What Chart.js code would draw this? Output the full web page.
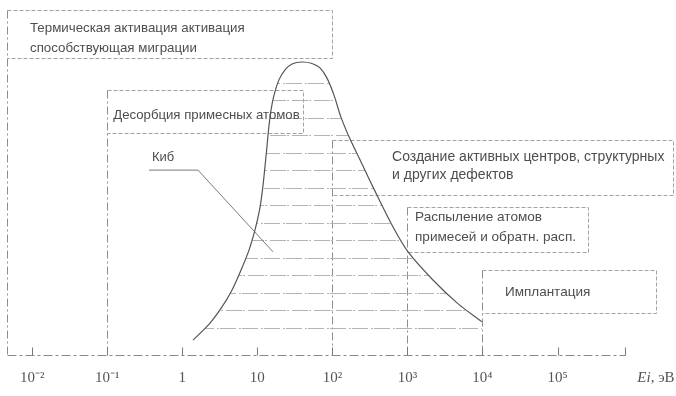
<!DOCTYPE html>
<html>
<head>
<meta charset="utf-8">
<script src="https://cdn.jsdelivr.net/npm/chart.js@4.4.1/dist/chart.umd.min.js"></script>
<style>
  html, body { margin: 0; padding: 0; background: #ffffff; }
  #wrap { width: 676px; height: 396px; }
</style>
</head>
<body>
<div id="wrap"><canvas id="chart" width="676" height="396"></canvas></div>
<script>
// Ion energy Ei (eV) and relative yield of the process curve
const curveEnergy = [1.39, 2.34, 3.38, 4.6, 6.06, 7.74, 9.31, 10.7, 11.7, 12.5, 13.3, 14.1, 15.2, 16.7, 19.4, 23.4, 29.0, 39.4,
                     53.5, 68.4, 84.8, 105, 130, 172, 241, 348, 643, 1020, 2190, 4580, 9860];
const curveValue  = [0.051, 0.109, 0.164, 0.222, 0.290, 0.358, 0.427, 0.495, 0.563, 0.631, 0.700, 0.768, 0.836, 0.887, 0.939, 0.973, 0.993, 1.0,
                     0.995, 0.980, 0.945, 0.887, 0.812, 0.737, 0.659, 0.573, 0.437, 0.352, 0.256, 0.178, 0.113];

// Decades marked on the energy axis
const tickPowers = [-2, -1, 0, 1, 2, 3, 4, 5];
const tickLabels = ['10\u207B\u00B2', '10\u207B\u00B9', '1', '10', '10\u00B2', '10\u00B3', '10\u2074', '10\u2075'];

// Processes and the energies (eV) from which each one starts
const processNames = [
  ['Термическая активация активация', 'способствующая миграции'],
  ['Десорбция примесных атомов'],
  ['Создание активных центров, структурных', 'и других дефектов'],
  ['Распыление атомов', 'примесей и обратн. расп.'],
  ['Имплантация']
];
const processFrom = [0.00461, 0.1, 100, 1000, 10000];

// Leader for the "Киб" label (energy, relative value)
const leaderEnergy = [0.36, 1.62, 16.2];
const leaderValue  = [0.631, 0.631, 0.352];

// Placement of the note boxes: right edge (eV), top/bottom (relative units), text anchor and size
const noteLayout = [
  { to: 100,    top: 1.177, bottom: 1.014, textE: 0.00934, textY: [1.116, 1.048], size: 13.3 },
  { to: 40.5,   top: 0.904, bottom: 0.758, textE: 0.12,    textY: [0.819],        size: 13.2 },
  { to: 3.46e6, top: 0.734, bottom: 0.546, textE: 624,     textY: [0.676, 0.614], size: 14 },
  { to: 2.55e5, top: 0.505, bottom: 0.352, textE: 1262,    textY: [0.471, 0.403], size: 13.6 },
  { to: 2.05e6, top: 0.290, bottom: 0.143, textE: 19950,   textY: [0.215],        size: 13.5 }
];
const kibLabel = { text: 'Киб', e: 0.395, y: 0.676 };
const axisTitle = { italic: 'Ei', rest: ', эВ', e: 2.05e6 };
const baselineEnd = 7.9e5;
const hatchTop = 0.955;
const hatchFloor = 0.04;

const X_MIN = Math.pow(10, -2.4294);
const X_MAX = Math.pow(10, 6.579);
const Y_MAX = 355 / 293;

function hatchPattern() {
  const c = document.createElement('canvas');
  c.width = 22; c.height = 35;
  const g = c.getContext('2d');
  g.fillStyle = '#b4b4b4';
  g.fillRect(0, 13, 16, 1);
  g.fillRect(19, 13, 2, 1);
  g.fillRect(6, 30, 16, 1);
  g.fillRect(1, 30, 2, 1);
  return g.createPattern(c, 'repeat');
}

const pts = (xs, ys) => xs.map((v, i) => ({ x: v, y: ys[i] }));
const HATCH_INDEX = 2;
const crisp = v => Math.round(v) + 0.5;

const notesPlugin = {
  id: 'processNotes',
  beforeDatasetsDraw(chart) {
    const { ctx, scales: { x, y } } = chart;
    const base = crisp(y.getPixelForValue(0));
    ctx.save();
    ctx.lineWidth = 1;
    // energy-range boxes with their thresholds carried down to the axis
    processFrom.forEach((from, i) => {
      const L = noteLayout[i];
      const x0 = crisp(x.getPixelForValue(from));
      const x1 = crisp(x.getPixelForValue(L.to));
      const y0 = crisp(y.getPixelForValue(L.top));
      const y1 = crisp(y.getPixelForValue(L.bottom));
      ctx.strokeStyle = '#a2a2a2';
      ctx.setLineDash([4, 2]);
      ctx.beginPath();
      ctx.moveTo(x0, y0); ctx.lineTo(x1, y0); ctx.lineTo(x1, y1); ctx.lineTo(x0, y1);
      ctx.stroke();
      ctx.strokeStyle = '#8e8e8e';
      ctx.setLineDash([8, 3, 2, 3]);
      ctx.beginPath();
      ctx.moveTo(x0, y0); ctx.lineTo(x0, base);
      ctx.stroke();
    });
    // energy axis line and decade ticks
    const xa = crisp(x.getPixelForValue(processFrom[0]));
    const xb = crisp(x.getPixelForValue(baselineEnd));
    ctx.strokeStyle = '#8a8a8a';
    ctx.setLineDash([9, 3, 3, 3]);
    ctx.beginPath(); ctx.moveTo(xa, base); ctx.lineTo(xb, base); ctx.stroke();
    ctx.setLineDash([]);
    ctx.strokeStyle = '#777';
    ctx.beginPath();
    tickPowers.map(p => Math.pow(10, p)).concat([baselineEnd]).forEach(v => {
      const px = crisp(x.getPixelForValue(v));
      ctx.moveTo(px, base); ctx.lineTo(px, base - 8);
    });
    ctx.stroke();
    ctx.restore();
    // hatching stays below the rounded top of the curve
    ctx.save();
    ctx.beginPath();
    ctx.rect(0, y.getPixelForValue(hatchTop), chart.width, chart.height);
    ctx.clip();
  },
  afterDatasetDraw(chart, args) {
    if (args.index === HATCH_INDEX) chart.ctx.restore();
  },
  afterDatasetsDraw(chart) {
    const { ctx, chartArea, scales: { x, y } } = chart;
    ctx.save();
    ctx.fillStyle = '#4e4e4e';
    ctx.textBaseline = 'middle';
    ctx.textAlign = 'left';
    processNames.forEach((lines, i) => {
      const L = noteLayout[i];
      ctx.font = L.size + 'px "Liberation Sans", Arial, sans-serif';
      const tx = x.getPixelForValue(L.textE);
      lines.forEach((t, k) => ctx.fillText(t, tx, y.getPixelForValue(L.textY[k])));
    });
    ctx.font = '13px "Liberation Sans", Arial, sans-serif';
    ctx.fillText(kibLabel.text, x.getPixelForValue(kibLabel.e), y.getPixelForValue(kibLabel.y));
    // axis title: Ei, эВ
    const ty = chartArea.bottom + 23;
    ctx.fillStyle = '#555';
    ctx.font = 'italic 15px "Liberation Serif", serif';
    const w1 = ctx.measureText(axisTitle.italic).width;
    ctx.font = '15px "Liberation Serif", serif';
    const w2 = ctx.measureText(axisTitle.rest).width;
    const cx = x.getPixelForValue(axisTitle.e) - (w1 + w2) / 2;
    ctx.font = 'italic 15px "Liberation Serif", serif';
    ctx.fillText(axisTitle.italic, cx, ty);
    ctx.font = '15px "Liberation Serif", serif';
    ctx.fillText(axisTitle.rest, cx + w1, ty);
    ctx.restore();
  }
};

new Chart(document.getElementById('chart'), {
  type: 'line',
  data: {
    datasets: [
      {
        label: 'Kib',
        data: pts(curveEnergy, curveValue),
        borderColor: '#555555',
        borderWidth: 1.2,
        pointRadius: 0,
        tension: 0.35,
        fill: false
      },
      {
        label: 'leader',
        data: pts(leaderEnergy, leaderValue),
        borderColor: '#7a7a7a',
        borderWidth: 1,
        pointRadius: 0,
        tension: 0,
        fill: false
      },
      {
        label: 'hatch',
        data: pts(curveEnergy, curveValue),
        borderWidth: 0,
        borderColor: 'rgba(0,0,0,0)',
        pointRadius: 0,
        tension: 0.35,
        backgroundColor: hatchPattern(),
        fill: { value: hatchFloor }
      }
    ]
  },
  options: {
    responsive: false,
    animation: false,
    devicePixelRatio: 1,
    layout: { padding: 0 },
    plugins: { legend: { display: false }, tooltip: { enabled: false } },
    scales: {
      x: {
        type: 'logarithmic',
        min: X_MIN,
        max: X_MAX,
        bounds: 'data',
        grid: { display: false, drawTicks: false },
        border: { display: false },
        afterBuildTicks: s => { s.ticks = tickPowers.map(p => ({ value: Math.pow(10, p) })); },
        afterFit: s => { s.height = 41; },
        ticks: {
          autoSkip: false,
          maxRotation: 0,
          padding: 14,
          color: '#555',
          font: { family: '"Liberation Serif", serif', size: 15 },
          callback: (v, i) => tickLabels[i]
        }
      },
      y: {
        type: 'linear',
        min: 0,
        max: Y_MAX,
        display: false
      }
    }
  },
  plugins: [notesPlugin]
});
</script>
</body>
</html>
